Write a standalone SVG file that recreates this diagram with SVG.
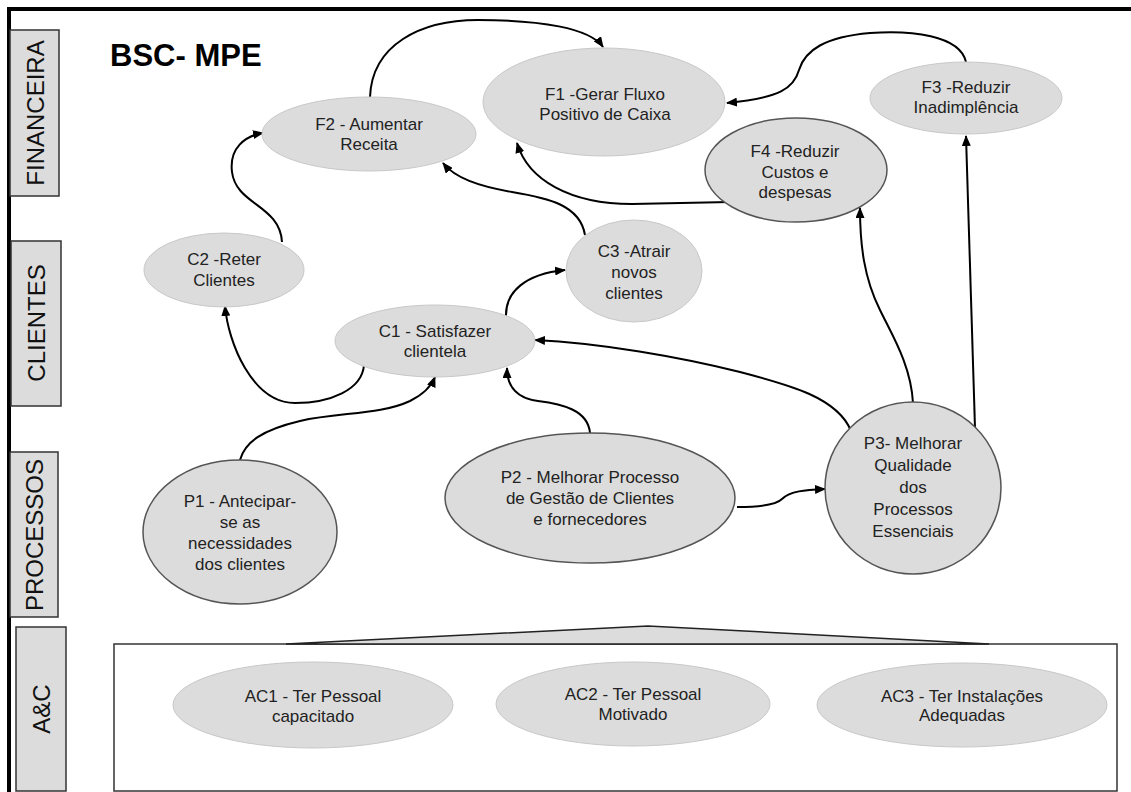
<svg xmlns="http://www.w3.org/2000/svg" width="1131" height="792" viewBox="0 0 1131 792">
<defs>
<marker id="arr" markerUnits="userSpaceOnUse" markerWidth="11" markerHeight="9" refX="10" refY="4.5" orient="auto">
<path d="M0,0 L11,4.5 L0,9 z" fill="#000"/>
</marker>
<style>
.lbl{fill:#dcdcdc;stroke:#333;stroke-width:1.5}
.lt{font-family:"Liberation Sans",Arial,sans-serif;font-size:24px;fill:#111;text-anchor:middle;dominant-baseline:central}
.n{fill:#dcdcdc;stroke:#c8c8c8;stroke-width:1}
.nd{fill:#dcdcdc;stroke:#555;stroke-width:1.5}
.t{font-family:"Liberation Sans",Arial,sans-serif;font-size:17px;fill:#222;text-anchor:middle}
.c{fill:none;stroke:#000;stroke-width:2;marker-end:url(#arr)}
</style>
</defs>
<rect width="1131" height="792" fill="#fff"/>
<g id="frame">
<line x1="7" y1="9" x2="1131" y2="9" stroke="#000" stroke-width="4"/>
<line x1="9" y1="7" x2="9" y2="792" stroke="#000" stroke-width="4"/>
</g>
<g id="lane-financeira"><rect class="lbl" x="10" y="30" width="49" height="166"/><text class="lt" transform="translate(35,113) rotate(-90)">FINANCEIRA</text></g>
<g id="lane-clientes"><rect class="lbl" x="11" y="241" width="50" height="165"/><text class="lt" transform="translate(36,323) rotate(-90)">CLIENTES</text></g>
<g id="lane-processos"><rect class="lbl" x="10" y="452" width="48" height="165"/><text class="lt" transform="translate(34,535) rotate(-90)">PROCESSOS</text></g>
<g id="lane-ac"><rect class="lbl" x="16" y="627" width="50" height="164"/><text class="lt" transform="translate(41,709) rotate(-90)">A&amp;C</text></g>
<text x="110" y="66" font-family="Liberation Sans,Arial,sans-serif" font-size="31" font-weight="bold" fill="#000">BSC- MPE</text>
<g id="ac-box">
<rect x="114" y="644" width="1003" height="147" fill="#fff" stroke="#333" stroke-width="1.5"/>
<polygon points="286,644 648,626 989,644" fill="#dcdcdc" stroke="#222" stroke-width="1.5"/>
</g>
<g id="connectors">
<path class="c" d="M370,97 C372,45 420,20 478,20 C540,20 590,28 603,47"/>
<path class="c" d="M282,242 C280,205 236,205 232,172 C229,148 245,136 263,133"/>
<path class="c" d="M585,235 C580,205 548,198 512,192 C478,186 455,178 443,163"/>
<path class="c" d="M730,202 L632,204 C570,204 528,180 517,143"/>
<path class="c" d="M966,62 C960,35 910,30 870,33 C825,37 805,50 799,70 C794,88 780,98 727,103"/>
<path class="c" d="M975,428 L966,136"/>
<path class="c" d="M913,403 C911,365 892,335 880,310 C864,278 860,245 860,208"/>
<path class="c" d="M851,431 C838,398 790,385 740,372 C680,357 600,343 535,340"/>
<path class="c" d="M590,433 C588,410 562,404 538,401 C515,398 507,385 507,368"/>
<path class="c" d="M737,507 C760,507 776,505 782,499 C790,491 805,490 825,489"/>
<path class="c" d="M240,460 C245,442 262,430 300,421 C340,412 380,415 410,401 C424,394 431,387 435,377"/>
<path class="c" d="M364,365 C362,390 330,403 295,403 C252,403 228,342 225,306"/>
<path class="c" d="M506,317 C505,292 525,274 565,270"/>
</g>
<g id="F1"><ellipse class="n" cx="604" cy="102" rx="121" ry="54"/><text class="t" x="605" y="100">F1 -Gerar Fluxo</text><text class="t" x="605" y="120">Positivo de Caixa</text></g>
<g id="F2"><ellipse class="n" cx="369" cy="134" rx="107" ry="37"/><text class="t" x="369" y="130">F2 - Aumentar</text><text class="t" x="369" y="150">Receita</text></g>
<g id="F3"><ellipse class="n" cx="966" cy="98" rx="96" ry="36"/><text class="t" x="966" y="93">F3 -Reduzir</text><text class="t" x="966" y="113">Inadimplência</text></g>
<g id="F4"><ellipse class="nd" cx="796" cy="170" rx="91" ry="52"/><text class="t" x="795" y="157">F4 -Reduzir</text><text class="t" x="795" y="178">Custos e</text><text class="t" x="795" y="198">despesas</text></g>
<g id="C2"><ellipse class="n" cx="224" cy="270" rx="80" ry="37"/><text class="t" x="224" y="265">C2 -Reter</text><text class="t" x="224" y="286">Clientes</text></g>
<g id="C3"><ellipse class="n" cx="634" cy="271" rx="68" ry="51"/><text class="t" x="634" y="257">C3 -Atrair</text><text class="t" x="634" y="278">novos</text><text class="t" x="634" y="299">clientes</text></g>
<g id="C1"><ellipse class="n" cx="435" cy="341" rx="100" ry="36"/><text class="t" x="435" y="337">C1 - Satisfazer</text><text class="t" x="435" y="357">clientela</text></g>
<g id="P1"><ellipse class="nd" cx="240" cy="532" rx="97" ry="72"/><text class="t" x="240" y="507">P1 - Antecipar-</text><text class="t" x="240" y="528">se as</text><text class="t" x="240" y="549">necessidades</text><text class="t" x="240" y="570">dos clientes</text></g>
<g id="P2"><ellipse class="nd" cx="590" cy="498" rx="145" ry="65"/><text class="t" x="590" y="483">P2 - Melhorar Processo</text><text class="t" x="590" y="504">de Gestão de Clientes</text><text class="t" x="590" y="525">e fornecedores</text></g>
<g id="P3"><ellipse class="nd" cx="913" cy="488" rx="88" ry="86"/><text class="t" x="913" y="449">P3- Melhorar</text><text class="t" x="913" y="471">Qualidade</text><text class="t" x="913" y="493">dos</text><text class="t" x="913" y="515">Processos</text><text class="t" x="913" y="537">Essenciais</text></g>
<g id="AC1"><ellipse class="n" cx="313" cy="705" rx="140" ry="43"/><text class="t" x="313" y="702">AC1 - Ter Pessoal</text><text class="t" x="313" y="722">capacitado</text></g>
<g id="AC2"><ellipse class="n" cx="633" cy="704" rx="137" ry="42"/><text class="t" x="633" y="700">AC2 - Ter Pessoal</text><text class="t" x="633" y="720">Motivado</text></g>
<g id="AC3"><ellipse class="n" cx="962" cy="705" rx="145" ry="42"/><text class="t" x="962" y="702">AC3 - Ter Instalações</text><text class="t" x="962" y="721">Adequadas</text></g>
</svg>
